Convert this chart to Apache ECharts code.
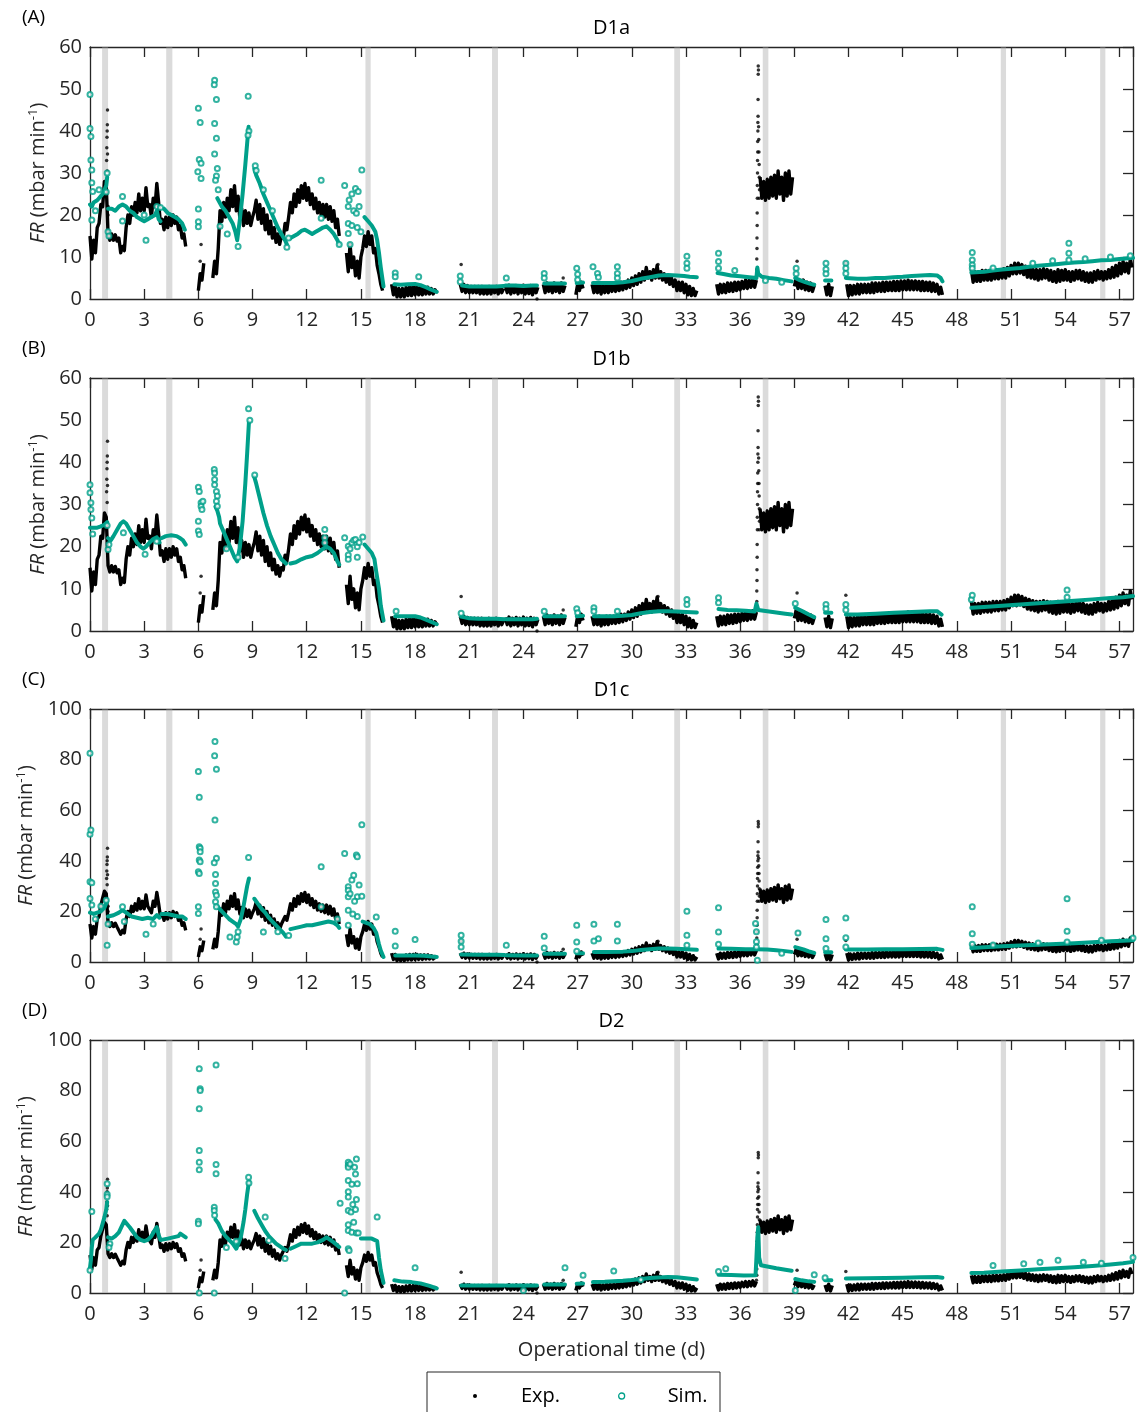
<!DOCTYPE html>
<html><head><meta charset="utf-8">
<script src="https://cdn.jsdelivr.net/npm/echarts@6/dist/echarts.min.js"></script>
<style>html,body{margin:0;padding:0;background:#fff}#c{width:1141px;height:1412px}</style>
</head><body><div id="c"></div><script>
// ---------------- DATA ----------------
const panelTitles = ['D1a', 'D1b', 'D1c', 'D2'];
const panelTags = ['(A)', '(B)', '(C)', '(D)'];
const xTickStep = 3;
const yMaxes = [60, 60, 100, 100];
const yTickSteps = [10, 10, 20, 20];
// shutdown / maintenance periods (grey bands), in days
const bandRanges = [[0.67,1.0],[4.22,4.56],[15.25,15.54],[22.26,22.59],[32.35,32.67],[37.25,37.56],[50.43,50.72],[55.93,56.22]];

// Experimental FR: segments sampled every 0.1 d, starting at expStarts[k]
const expStep = 0.1;
const expStarts = [0.0, 6.0, 6.8, 14.2, 16.7, 20.5, 23.0, 25.1, 26.9, 27.8, 34.7, 37.1, 39.0, 40.7, 41.9, 48.8];
const expE1 = [15,9.5,14,11,17,18,22.5,22,28,27, 15.5,14,15.5,14,15.3,13.8,14.5,11,12.5,11.5, 17,20,18,22,20,23,20.5,25,21,24, 21,26.5,22,22.5,19.5,24,22,27.5,23,18, 19,16.5,19.5,17,19.5,17.5,20,18,19.5,16.5, 17.5,14.5,15.5,12.5];
const expE2 = [2,6,4.5,8.5];
const expE3 = [5,9,6,12,21,18.5,23,19.5,24,21, 26,22,27,21,24.5,19,21.5,17.5,21,18, 20.5,17.5,19.5,21,23.5,19,22.5,18,21.5,16.5, 20,15.5,18.5,14.5,17,13.5,15.5,13,15,14.5, 18,16.5,19.5,23,20.5,25,22,26,23,27, 24,27.5,23.5,26.5,22.5,25,21.5,24,20.5,23, 20,22.5,19.5,22.5,19,22,18.5,21,17,19, 15];
const expE4 = [11,6.5,13,7.5,10,5.5,9,5,10,12, 15,12.5,16,13,15,11,12,8,6,3.5, 2];
const expE5 = [3.5,1,3,0.5,2.5,0.5,2.5,0.5,2.8,0.8, 3,0.8,3,1,3,1,2.8,1,2.8,1.2, 2.8,1.2,2.5,1.2,2.2,1.5];
const expE6 = [3.5,1.8,3.5,1.5,3.2,1.5,3,1.5,3,1.5, 3,1.2,3,1.2,2.8,1.2,3,1.2,2.8,1.5, 3,1.2,2.8,1.5,2.5];
const expE7 = [3.2,1.5,3.3,1.2,3,1.5,3.2,1.2,3,1.5, 3.3,1.2,3,1.3,3.2,1,3,1.5,2.8];
const expE8 = [3.5,1.5,3.8,1.8,3.5,1.5,3.8,1.8,3.5,1.5, 3.8,1.8,3.2];
const expE9 = [1,3.5,2,4,2.5];
const expE10 = [3.5,1.5,3.5,1.5,3.5,1.2,3.2,1.5,3.5,1.5, 3.5,1.8,3.5,1.8,3.8,2,4,2.2,4,2.5, 4.5,2.8,5,3.2,5.5,3.5,6,4,6.5,4.5, 7.5,5,6.5,4.5,7,5,8,5,6.5,4.5, 6,4,5.5,3.5,5,3,4.5,2,4,2, 4,1.5,3.5,1,3,0.8,2.5,0.8,2];
const expE11 = [3.5,1.2,3.5,1.5,3.5,1.5,3.8,1.8,3.8,1.8, 4,2,4,2.2,4.2,2.5,4.5,2.5,4.5,2.8, 4.8,2.8,4.5];
const expE12 = [29,24,28,23.5,28.5,24,29,24.5,29.5,24, 30.5,25,29,23.5,30,24.5,30.5,25,29];
const expE13 = [3,5,2.5,4.5,2.5,4.5,2.2,4,2,3.8, 1.8,3.2];
const expE14 = [3.2,1,3.5,0.8,3];
const expE15 = [3.5,0.8,3.2,1,3.2,1.2,3.5,1.2,3.5,1.5, 3.5,1.5,3.5,1.5,3.8,1.5,3.8,1.8,3.8,1.8, 4,1.8,4,2,4,2,4.2,2,4.2,2, 4.3,2.2,4.3,2.2,4.5,2.2,4.3,2.2,4.3,2.2, 4.2,2,4.2,2,4,2,4,1.8,3.8,1.8, 3.5,1.2,2.8,1];
const expE16 = [7,4,6.5,4.2,6.5,4.2,6.8,4.5,6.8,4.5, 6.8,4.5,7,4.8,7,4.8,7,5,7.2,5, 7.5,5.5,8,6,8.5,6,8.5,6.2,8.2,5.8, 7.8,5.2,7.5,5,7.2,4.8,7,4.5,7,4.8, 7.2,5,7,4.5,6.8,4.2,6.5,4,7,4.2, 6.8,4.5,7,4.5,6.5,4.2,6.5,4.5,6.8,4.8, 6.8,4.5,6.5,4.2,6.2,4,6.2,4,6.5,4.5, 6.8,4.8,6.5,4.5,6.5,4.8,7,5,7.5,5.2, 8,5.5,8.5,6,9,6.5,8.5,6.2,9.5,7.5];
const expSegments = [expE1,expE2,expE3,expE4,expE5,expE6,expE7,expE8,expE9,expE10,expE11,expE12,expE13,expE14,expE15,expE16];
// isolated experimental points (start-up spikes, outliers)
const expPoints = [[0.92,33],[0.93,36],[0.94,38.5],[0.95,40],[0.96,41.5],[0.97,45],[0.95,30.5],[0.97,34.5],[1.0,20],[1.0,22],
  [6.15,13],[6.1,9],[20.55,8.2],[24.75,0],[26.2,5],[31.45,8.2],
  [36.9,5],[36.92,7],[36.92,9.5],[36.93,12],[36.93,14.5],[36.94,17.5],[36.94,20.5],[36.95,24],[36.95,27],[36.96,30],[36.96,33],[36.97,35],[36.97,37.5],[36.98,40],[36.98,42],[36.99,43.5],[36.99,47.5],[37.0,53.5],[37.0,55.5],[37.01,54.5],[37.02,41],[37.03,38],[37.04,35],[37.05,32],[37.06,29],[37.07,26],[37.05,24],
  [39.15,9],[41.85,8.5]];

// Simulated FR, panel A (D1a): continuous segments and scattered points
const simA = [
  [[0,22.5],[0.1,22],[0.2,23],[0.3,23],[0.4,23.5],[0.5,24],[0.6,24.5],[0.7,25],[0.8,26],[0.9,27],[0.95,29]],
  [[1.0,21.5],[1.2,21.5],[1.4,21],[1.6,22],[1.8,22.5],[2.0,22],[2.2,21],[2.4,20.5],[2.6,19.5],[2.8,19],[3.0,18.5],[3.2,19],[3.4,19.5],[3.6,20],[3.7,21],[3.8,19],[3.9,18.5]],
  [[4.1,21.5],[4.3,20.5],[4.5,20],[4.7,19.5],[4.9,19],[5.1,18],[5.25,16.5]],
  [[7.05,24],[7.3,22],[7.5,21],[7.7,19.5],[7.9,18],[8.05,16],[8.15,14],[8.3,19],[8.45,25],[8.6,32],[8.7,37],[8.78,41]],
  [[9.1,31],[9.2,29.5],[9.4,27.5],[9.6,25],[9.8,23],[10.0,21],[10.2,19],[10.4,17],[10.6,15.5],[10.8,14],[10.9,13]],
  [[11.1,14.5],[11.3,15],[11.5,15.5],[11.7,16.2],[11.9,16.5],[12.1,16],[12.3,15.5],[12.5,16],[12.7,16.5],[12.9,17],[13.1,17.3],[13.3,16.5],[13.5,15.5],[13.7,14],[13.8,13]],
  [[15.2,19.5],[15.4,18.5],[15.6,17.5],[15.8,16],[15.9,14],[16.0,11],[16.1,7.5],[16.25,3]],
  [[16.85,3.5],[17.2,3.4],[17.6,3.5],[18.0,3.6],[18.3,3.3],[18.6,2.8],[18.9,2.2],[19.2,1.7]],
  [[20.6,3.2],[21.0,3],[21.5,3],[22.0,3],[22.5,3],[22.9,3.1]],
  [[23.0,3.2],[23.5,3.2],[24.0,3.1],[24.5,3.2],[24.75,3.2]],
  [[25.15,3.7],[25.5,3.7],[26.0,3.7],[26.3,3.7]],
  [[26.95,3.8],[27.3,3.9]],
  [[27.85,3.8],[28.5,3.8],[29.0,3.8],[29.5,4],[30.0,4.3],[30.5,4.8],[31.0,5.2],[31.5,5.6],[32.0,5.7],[32.5,5.6],[32.9,5.5],[33.2,5.3],[33.6,5.2]],
  [[34.75,6.2],[35.0,6],[35.5,5.6],[36.0,5.4],[36.5,5.2],[36.9,5],[36.95,7.5],[37.0,6],[37.2,5.3],[37.6,5],[38.0,4.8],[38.4,4.5],[38.85,4.2]],
  [[39.05,5],[39.3,4.5],[39.6,4],[39.9,3.6],[40.1,3.4]],
  [[40.7,4.4],[41.05,4.4]],
  [[41.85,5],[42.5,4.8],[43.0,4.8],[43.5,5],[44.0,5],[44.5,5.2],[45.0,5.3],[45.5,5.5],[46.0,5.6],[46.5,5.7],[46.9,5.6],[47.1,5],[47.2,4.2]],
  [[48.8,6.3],[49.5,6.5],[50.0,6.8],[50.5,7],[51.0,7.2],[51.5,7.4],[52.0,7.7],[52.5,7.9],[53.0,8.1],[53.5,8.3],[54.0,8.5],[54.5,8.7],[55.0,8.8],[55.5,9],[56.0,9.2],[56.5,9.3],[57.0,9.5],[57.5,9.7],[57.75,9.8]]
];
const simAPoints = [[0.0,48.7],[0.0,40.6],[0.05,38.7],[0.05,33.1],[0.1,30.7],[0.1,27.7],[0.15,25.6],[0.1,18.8],[0.3,21],[0.5,26],[0.95,30],[0.9,25.5],
  [1.0,16],[1.05,15],[1.8,24.4],[1.8,18.6],[3.1,14],[3.0,20],[3.7,22],[3.9,21.8],
  [6.0,45.4],[6.1,42],[5.97,30.3],[6.05,33.2],[6.15,32.3],[6.15,28.7],[6.0,21.4],[6.0,18.4],[6.0,17.2],
  [6.9,52.1],[6.88,51],[7.0,47.5],[6.9,41.8],[7.0,38.3],[6.9,34.5],[7.05,31.1],[7.0,29.3],[6.95,28.3],[7.1,26],[7.2,17.3],[7.6,15.5],[8.2,12.5],
  [8.76,48.3],[8.8,40],[8.75,39],[9.15,31.7],[9.2,30.6],[9.6,26],[10.1,21],[10.9,12.3],
  [11.0,14.5],[12.8,28.3],[12.8,19.2],[13.8,13],
  [14.1,27],[14.3,22],[14.3,18],[14.3,15.6],[14.35,23.6],[14.5,25],[14.6,21],[14.7,26.3],[14.75,20.4],[14.8,17],[14.85,25.6],[14.9,22],[15.05,30.7],[15.0,16],[14.4,13],[14.5,17.5],
  [16.9,6.2],[16.9,5.3],[18.2,5.3],[20.5,5.5],[20.5,4.1],[23.05,5],[25.15,6.1],[25.15,5],[26.95,7.3],[27.0,5.9],[27.0,4.6],[27.85,7.7],[28.1,6.1],[28.15,5.2],[29.2,7.7],[29.2,6.1],[29.2,5],
  [33.05,10.2],[33.05,8.5],[33.05,7.3],[34.8,10.9],[34.8,8.9],[34.8,7.3],[35.7,6.8],[37.4,4.4],[38.3,4.0],
  [39.1,7.3],[39.1,6],[40.75,8.5],[40.75,7.1],[40.75,6],[41.85,8.5],[41.85,7.3],[41.85,6.1],
  [48.85,11.1],[48.85,9.3],[48.85,8.1],[48.85,7.3],[50.0,7.4],[54.2,13.3],[54.2,10.9],[54.2,9.3],[55.1,9.6],[56.5,10],[57.6,10.3],[53.3,9.1],[52.2,8.5]];

// panel B (D1b)
const simB = [
  [[0,24.5],[0.2,24.5],[0.4,24.5],[0.6,24.8],[0.8,25.2],[0.95,25.8]],
  [[1.0,22],[1.15,21.5],[1.3,22.5],[1.5,24],[1.7,25.5],[1.85,26],[2.0,25.5],[2.2,24],[2.4,22.5],[2.6,21],[2.8,20],[2.95,19.5],[3.1,20],[3.3,21],[3.5,21.8],[3.7,22.2],[3.85,21]],
  [[3.95,22],[4.2,22.5],[4.5,22.7],[4.8,22.5],[5.0,22],[5.15,21.5],[5.3,20.5]],
  [[6.95,29.5],[7.05,28.5],[7.15,27],[7.2,25.5],[7.4,23.5],[7.6,21.5],[7.8,19.5],[8.0,17.5],[8.15,16.5],[8.3,20],[8.45,26],[8.6,35],[8.7,42],[8.8,49.5]],
  [[9.1,36.5],[9.2,35],[9.4,31.5],[9.6,28],[9.8,25],[10.0,22.5],[10.2,20.5],[10.4,18.5],[10.6,17],[10.85,16]],
  [[11.1,16],[11.4,16.3],[11.7,17],[12.0,17.5],[12.3,17.8],[12.6,18.5],[12.9,19.5],[13.1,20],[13.3,19.5],[13.5,18.5],[13.7,16.5],[13.8,15.7]],
  [[15.2,20.5],[15.4,19.5],[15.6,18.5],[15.75,17],[15.85,14],[16.0,10],[16.1,6],[16.25,2.5]],
  [[16.9,3.5],[17.5,3.5],[18.0,3.5],[18.3,3.2],[18.7,2.5],[19.2,1.6]],
  [[20.55,3.4],[21.0,3],[21.5,2.9],[22.0,2.9],[22.5,2.9],[22.95,2.8]],
  [[23.05,2.8],[23.5,2.8],[24.0,2.8],[24.5,2.8],[24.75,2.9]],
  [[25.15,3.5],[25.7,3.5],[26.3,3.5]],
  [[26.95,3.5],[27.3,3.6]],
  [[27.9,3.5],[28.5,3.5],[29.0,3.5],[29.5,3.6],[30.0,3.8],[30.5,4.2],[31.0,4.5],[31.5,4.7],[32.0,4.7],[32.5,4.6],[33.0,4.5],[33.6,4.4]],
  [[34.8,5.2],[35.3,5],[35.8,4.9],[36.3,4.8],[36.8,4.6],[36.9,6.5],[37.0,5],[37.5,4.7],[38.0,4.4],[38.5,4.1],[38.85,3.9]],
  [[39.05,5.5],[39.4,4.8],[39.8,3.9],[40.1,3.3]],
  [[40.7,4.3],[41.05,4.3]],
  [[41.85,3.9],[42.5,3.9],[43.5,4.1],[44.5,4.3],[45.5,4.5],[46.5,4.7],[46.9,4.7],[47.15,3.9]],
  [[48.8,5.5],[49.5,5.7],[50.5,6],[51.5,6.3],[52.5,6.6],[53.5,6.9],[54.5,7.2],[55.5,7.5],[56.5,7.8],[57.2,8],[57.75,8.3]]
];
const simBPoints = [[0.0,34.7],[0.0,32.8],[0.05,30.4],[0.05,28.8],[0.1,26.8],[0.15,23],[0.95,25],[1.0,19.3],[1.05,20.5],[1.85,23.3],[3.05,18.2],[3.7,21.3],
  [6.0,34.1],[6.05,33.1],[6.0,26],[6.0,23.7],[6.05,22.9],[6.15,30.4],[6.15,29.6],[6.2,28.8],[6.25,30.8],
  [6.88,38.3],[6.9,37.5],[6.9,35.9],[6.9,34.7],[7.0,33.1],[7.05,32],[7.0,30.8],[7.05,29.6],[7.55,19.5],[8.2,17.5],
  [8.78,52.7],[8.85,50],[9.12,37],[13.0,24.1],[13.0,22.1],[13.0,20.9],
  [14.1,22.1],[14.3,20.1],[14.3,18],[14.3,17],[14.4,19.5],[14.5,20.9],[14.6,21.5],[14.7,21.7],[14.8,20],[14.8,17.5],[14.9,21],[15.1,22.3],
  [16.95,4.7],[20.55,4.2],[25.15,4.7],[26.95,5.3],[27.0,4.3],[27.9,5.5],[27.9,4.7],[29.2,4.7],[33.05,7.5],[33.05,6.3],[34.8,7.9],[34.8,6.7],
  [39.05,6.5],[40.75,6.3],[40.75,5.3],[41.85,6.3],[41.85,5],[48.8,7.5],[48.85,8.5],[54.1,9.7],[54.1,8]];

// panel C (D1c)
const simC = [
  [[0,19.5],[0.2,19],[0.4,19.5],[0.6,20],[0.8,21.5],[0.95,24]],
  [[1.0,18],[1.3,18.5],[1.6,19.5],[1.8,20.5],[2.0,19.5],[2.3,18],[2.6,17.5],[2.9,17],[3.2,17.5],[3.5,17],[3.7,18.5],[3.85,17.5]],
  [[3.95,19],[4.3,19],[4.6,18.5],[4.9,18],[5.1,18],[5.3,17]],
  [[7.05,22],[7.3,20],[7.5,18.5],[7.7,17],[7.9,16],[8.1,15],[8.2,14],[8.35,17],[8.5,22],[8.6,26],[8.7,30],[8.8,33]],
  [[9.1,25],[9.3,23],[9.5,21],[9.7,19.5],[9.9,17.5],[10.1,16],[10.3,14.5],[10.5,13],[10.7,11.5],[10.85,10]],
  [[11.1,13],[11.4,13.5],[11.7,14],[12.0,14.5],[12.3,14.5],[12.6,15],[12.9,15.5],[13.2,16],[13.5,15.5],[13.7,14.5],[13.8,13.5]],
  [[15.1,16],[15.3,15.5],[15.5,15],[15.7,13.5],[15.85,11.5],[16.0,7],[16.1,4.5],[16.25,2]],
  [[16.9,2.6],[17.5,2.6],[18.0,2.6],[18.5,2.5],[19.2,2]],
  [[20.55,3],[21.5,2.9],[22.5,2.9],[22.95,2.8]],
  [[23.05,2.7],[24.0,2.6],[24.75,2.6]],
  [[25.15,3.3],[26.3,3.3]],
  [[26.95,3.5],[27.3,3.5]],
  [[27.9,4],[28.5,4],[29.5,4.1],[30.0,4.3],[30.5,4.7],[31.0,5],[31.5,5.3],[32.0,5.3],[32.5,5.2],[33.0,5],[33.6,4.8]],
  [[34.8,5.3],[35.5,5.2],[36.3,5],[36.85,5],[36.95,5],[37.5,4.9],[38.0,4.6],[38.5,4.3],[38.85,4]],
  [[39.05,5.9],[39.5,5],[39.8,4.2],[40.1,3.6]],
  [[40.7,3.9],[41.05,3.9]],
  [[41.85,4.9],[43.0,4.9],[44.0,5],[45.0,5],[46.0,5.1],[46.9,5.2],[47.2,4.8]],
  [[48.8,5.5],[49.5,5.8],[50.5,6.2],[51.5,6.5],[52.5,6.8],[53.5,7.1],[54.5,7.4],[55.5,7.8],[56.5,8.2],[57.2,8.4],[57.75,8.6]]
];
const simCPoints = [[0.0,82.5],[0.0,50.5],[0.05,52.2],[0.0,31.7],[0.1,31.3],[0.0,25.1],[0.1,22.5],[0.3,17],[0.6,22],[0.9,24.4],[0.95,6.6],[1.0,15],[1.8,21.8],[1.9,16],[3.1,11],[3.5,15],
  [6.0,75.3],[6.05,65.1],[6.05,45.6],[6.1,45],[6.1,43.6],[6.05,40.3],[6.1,39.6],[6.0,35.7],[6.05,35],[6.0,21.8],[6.0,19.2],
  [6.92,87.2],[6.9,81.5],[7.0,76.2],[6.92,56.1],[7.0,41],[6.88,39.2],[6.95,34.6],[6.95,31],[6.95,27.7],[7.0,26.4],[6.95,23.8],[7.0,21.8],
  [7.75,9.9],[8.1,7.9],[8.15,9.9],[8.2,12],[8.78,41.3],[9.6,11.9],[10.4,12],[11.0,10.5],
  [12.8,37.6],[12.8,21.8],[13.7,17],
  [14.1,42.9],[14.3,29.7],[14.3,28.4],[14.3,25.8],[14.3,20.5],[14.3,14.5],[14.4,27],[14.5,32.4],[14.6,34.3],[14.75,42.3],[14.8,41.6],[14.8,25.8],[14.8,18],[15.05,54.2],[15.05,26],[14.55,19],[14.9,30.4],[14.65,24],
  [15.85,17.8],[16.9,12.2],[16.9,6.3],[18.0,8.9],[20.55,10.6],[20.55,8.2],[20.55,5.9],[23.05,6.6],[25.15,10.2],[25.15,5.5],[26.95,14.5],[26.95,7.9],[26.95,4.2],[27.9,14.9],[28.15,9.2],[27.9,8.3],[29.2,14.9],[29.2,8.3],[33.05,20.1],[33.05,10.6],[33.05,6.6],[34.8,21.4],[34.8,11.9],[34.8,7],
  [36.85,15.2],[36.9,12],[36.9,8],[36.9,5.9],[36.95,0.7],[38.3,3.5],[39.2,11.5],[40.75,16.8],[40.75,9.2],[40.75,5.3],[41.85,17.4],[41.85,9.6],[41.85,5.9],
  [48.85,21.8],[48.85,11.2],[48.85,7],[54.1,25],[54.1,12.2],[54.1,7.9],[50.0,6.7],[52.5,7.5],[56.0,8.6],[57.75,9.5]];

// panel D (D2)
const simD = [
  [[0,10],[0.05,13],[0.1,18],[0.15,21],[0.3,22],[0.5,23.5],[0.6,25],[0.7,27.5],[0.8,30],[0.9,33],[0.95,36]],
  [[1.0,22],[1.2,21.5],[1.4,22.5],[1.6,24],[1.8,27],[1.9,28.5],[2.0,28],[2.2,26],[2.4,24],[2.6,22],[2.8,21],[3.0,20.5],[3.2,21],[3.4,22.5],[3.6,25],[3.7,26],[3.8,23],[3.9,21]],
  [[3.95,21],[4.3,21.5],[4.6,22],[4.9,22.5],[5.0,23.5],[5.1,24],[5.3,22]],
  [[6.95,29],[7.1,27.5],[7.3,24.5],[7.5,22.5],[7.7,21],[7.9,19.5],[8.1,17.5],[8.2,17],[8.35,22],[8.5,28],[8.6,33],[8.7,39],[8.8,44]],
  [[9.1,32.5],[9.3,29.5],[9.5,27],[9.7,24.5],[9.9,22.5],[10.1,21],[10.3,19.5],[10.5,18.5],[10.7,17.5],[10.85,17]],
  [[11.1,17.5],[11.4,18.5],[11.7,19.5],[12.0,19.5],[12.3,19.5],[12.6,20],[12.9,21],[13.1,22],[13.3,21],[13.5,20],[13.8,18.2]],
  [[15.0,21.5],[15.3,21.5],[15.6,21.5],[15.9,20.5],[16.0,14],[16.1,9],[16.25,4]],
  [[16.85,5],[17.3,4.5],[17.8,4.3],[18.3,3.8],[18.8,2.8],[19.2,1.8]],
  [[20.55,3],[21.5,3],[22.5,3],[22.95,3]],
  [[23.05,3],[24.0,3],[24.75,3]],
  [[25.15,3.4],[26.3,3.4]],
  [[26.95,3.7],[27.3,3.8]],
  [[27.85,4.3],[28.5,4.4],[29.5,4.8],[30.0,5.1],[30.5,5.5],[31.0,5.9],[31.5,6.1],[32.0,6.3],[32.5,6.2],[33.0,5.8],[33.6,5.3]],
  [[34.8,7.2],[35.5,7.1],[36.2,6.9],[36.85,7],[36.9,14],[36.95,22],[37.0,26],[37.05,14],[37.15,11],[37.5,10.5],[38.0,9.8],[38.5,9.2],[38.85,8.8]],
  [[39.05,5.5],[39.4,5],[39.8,4.6],[40.1,4.4]],
  [[40.7,5],[41.05,5]],
  [[41.85,5.7],[43.0,5.8],[44.0,5.9],[45.0,6],[46.0,6.2],[46.9,6.3],[47.2,6]],
  [[48.8,7.9],[49.5,8],[50.5,8.5],[51.5,8.9],[52.5,9.4],[53.5,9.8],[54.5,10.2],[55.5,10.7],[56.5,11.3],[57.2,11.8],[57.75,12.3]]
];
const simDPoints = [[0.0,9],[0.1,32.2],[0.95,43.2],[0.95,39],[0.95,38],[1.1,19.5],[1.05,18],
  [6.05,88.6],[6.1,80.7],[6.1,80],[6.05,72.8],[6.05,56.3],[6.05,51.7],[6.05,48.7],[6.0,28.4],[6.0,27.4],[6.05,0],
  [6.98,90.1],[6.98,50.8],[6.98,47.1],[6.88,33.9],[6.88,32.6],[6.9,30.7],[6.88,0],[7.55,18],[8.1,20.5],
  [8.78,45.8],[8.8,43.5],[9.7,30],[9.9,20.8],[10.8,13.6],[13.85,35.5],
  [14.1,0],[14.3,51.7],[14.3,50.5],[14.3,49.7],[14.3,44.5],[14.3,40],[14.3,37.9],[14.3,32.6],[14.3,27],[14.3,24.7],[14.3,17.5],[14.35,16.8],[14.4,51],[14.5,43],[14.5,24],[14.6,28],[14.65,49.7],[14.7,47],[14.75,53],[14.75,37],[14.75,23.7],[14.8,43.2],[14.85,23.7],[14.45,32],[14.55,35],[14.7,33],
  [15.9,30],[18.0,10],[24.0,1],[26.3,10],[27.3,7],[29.0,8.7],[30.5,5.2],[34.8,8.5],[35.2,9.6],[39.05,1],[40.1,7.2],[40.7,6],[50.0,10.9],[51.7,11.6],[52.6,12.2],[53.6,12.9],[55.0,12.2],[56.0,11.8],[57.75,14]];

const simLines = [simA, simB, simC, simD];
const simScatter = [simAPoints, simBPoints, simCPoints, simDPoints];

// ---------------- BUILD ----------------
const FONT = "'Open Sans', 'Noto Sans', 'DejaVu Sans', sans-serif";
const AX = '#262626';
const TEAL = '#00a08a';
const X_MAX = 57.75;
const gridBoxes = [{top: 47, height: 252}, {top: 378, height: 253}, {top: 709, height: 253}, {top: 1040, height: 253}];

function expLine() {
  const out = [];
  expSegments.forEach((vals, k) => {
    vals.forEach((v, i) => out.push([+(expStarts[k] + i * expStep).toFixed(2), v]));
    out.push([+(expStarts[k] + (vals.length - 1) * expStep).toFixed(2), '-']);
  });
  return out;
}
function segLine(segs) {
  const out = [];
  segs.forEach(seg => {
    seg.forEach(p => out.push(p));
    out.push([seg[seg.length - 1][0], '-']);
  });
  return out;
}
const expData = expLine();
const bandArea = bandRanges.map(b => [{xAxis: b[0]}, {xAxis: b[1]}]);

const grid = [], xAxis = [], yAxis = [], series = [], graphic = [];
gridBoxes.forEach((g, i) => {
  grid.push({left: 90, right: 8, top: g.top, height: g.height, containLabel: false});
  const xCommon = {gridIndex: i, type: 'value', min: 0, max: X_MAX, interval: xTickStep, splitLine: {show: false},
    axisLine: {show: true, onZero: false, lineStyle: {color: AX, width: 1.3}},
    axisTick: {show: true, inside: true, length: 10, lineStyle: {color: AX, width: 1.3}}};
  xAxis.push(Object.assign({}, xCommon, {position: 'bottom',
    axisLabel: {show: true, color: AX, fontSize: 20, fontFamily: FONT, margin: 11, showMaxLabel: false,
      formatter: v => (Math.abs(v / 3 - Math.round(v / 3)) < 1e-6 ? String(Math.round(v)) : '')},
    name: i === 3 ? 'Operational time (d)' : '', nameLocation: 'middle', nameGap: 47,
    nameTextStyle: {color: AX, fontSize: 20, fontFamily: FONT}}));
  xAxis.push(Object.assign({}, xCommon, {position: 'top', axisLabel: {show: false}}));
  const yCommon = {gridIndex: i, type: 'value', min: 0, max: yMaxes[i], interval: yTickSteps[i], splitLine: {show: false},
    axisLine: {show: true, onZero: false, lineStyle: {color: AX, width: 1.3}}};
  yAxis.push(Object.assign({}, yCommon, {position: 'left', axisTick: {show: false},
    axisLabel: {color: AX, fontSize: 20, fontFamily: FONT, margin: 8},
    name: '{i|FR} (mbar min{s|-1})', nameLocation: 'middle', nameGap: 36,
    nameTextStyle: {color: AX, fontSize: 20, fontFamily: FONT,
      rich: {i: {fontStyle: 'italic', fontSize: 20, color: AX, fontFamily: FONT},
             s: {fontSize: 13, color: AX, fontFamily: FONT, verticalAlign: 'top', padding: [0, 0, 10, 0]}}}}));
  yAxis.push(Object.assign({}, yCommon, {position: 'right', axisLabel: {show: false},
    axisTick: {show: true, inside: true, length: 10, lineStyle: {color: AX, width: 1.3}}}));

  const xi = 2 * i, yi = 2 * i;
  series.push({name: 'Exp.', type: 'line', xAxisIndex: xi, yAxisIndex: yi, data: expData, symbol: 'none',
    lineStyle: {color: '#000', width: 3.4, join: 'round'}, connectNulls: false, z: 2, silent: true, animation: false});
  series.push({name: 'Exp.', type: 'scatter', xAxisIndex: xi, yAxisIndex: yi, data: expPoints, symbolSize: 3.5,
    itemStyle: {color: '#000'}, z: 2, silent: true, animation: false});
  series.push({name: 'Sim.', type: 'line', xAxisIndex: xi, yAxisIndex: yi, data: segLine(simLines[i]),
    symbol: 'none', connectNulls: false,
    lineStyle: {color: TEAL, width: 4, join: 'round', cap: 'round'},
    z: 3, silent: true, animation: false});
  series.push({name: 'Sim.', type: 'scatter', xAxisIndex: xi, yAxisIndex: yi, data: simScatter[i],
    symbol: 'emptyCircle', symbolSize: 5, itemStyle: {color: TEAL, borderColor: TEAL, borderWidth: 1.2},
    z: 3, silent: true, animation: false});
  series.push({name: 'bands', type: 'line', xAxisIndex: xi, yAxisIndex: yi, data: [], z: 10, silent: true, animation: false,
    markArea: {silent: true, itemStyle: {color: 'rgba(165,165,165,0.4)'}, data: bandArea}});

  const cx = 90 + (1141 - 98) / 2;
  graphic.push({type: 'text', x: cx, y: g.top - 19, style: {text: panelTitles[i], font: '20px ' + FONT, fill: '#000',
    align: 'center', verticalAlign: 'middle', textAlign: 'center', textVerticalAlign: 'middle'}});
  graphic.push({type: 'text', x: 22, y: g.top - 29, style: {text: panelTags[i], font: '19px ' + FONT, fill: '#000',
    align: 'left', verticalAlign: 'middle', textAlign: 'left', textVerticalAlign: 'middle'}});
});
graphic.push({type: 'rect', shape: {x: 427, y: 1372, width: 293, height: 60}, style: {fill: 'none', stroke: AX, lineWidth: 1}});

const chart = echarts.init(document.getElementById('c'), null, {renderer: 'canvas'});
chart.setOption({
  animation: false,
  backgroundColor: '#fff',
  textStyle: {fontFamily: FONT},
  grid, xAxis, yAxis, series, graphic,
  legend: [
    {data: [{name: 'Exp.', icon: 'circle', itemStyle: {color: '#000'}}], left: 473, top: 1384, itemWidth: 82, itemHeight: 4,
     selectedMode: false, padding: 0, textStyle: {fontSize: 20, color: '#000', fontFamily: FONT, lineHeight: 24}},
    {data: [{name: 'Sim.', icon: 'circle', itemStyle: {color: '#fff', borderColor: TEAL, borderWidth: 1.3}}], left: 618, top: 1384, itemWidth: 82, itemHeight: 6,
     selectedMode: false, padding: 0, textStyle: {fontSize: 20, color: '#000', fontFamily: FONT, lineHeight: 24}}
  ]
});
</script></body></html>
